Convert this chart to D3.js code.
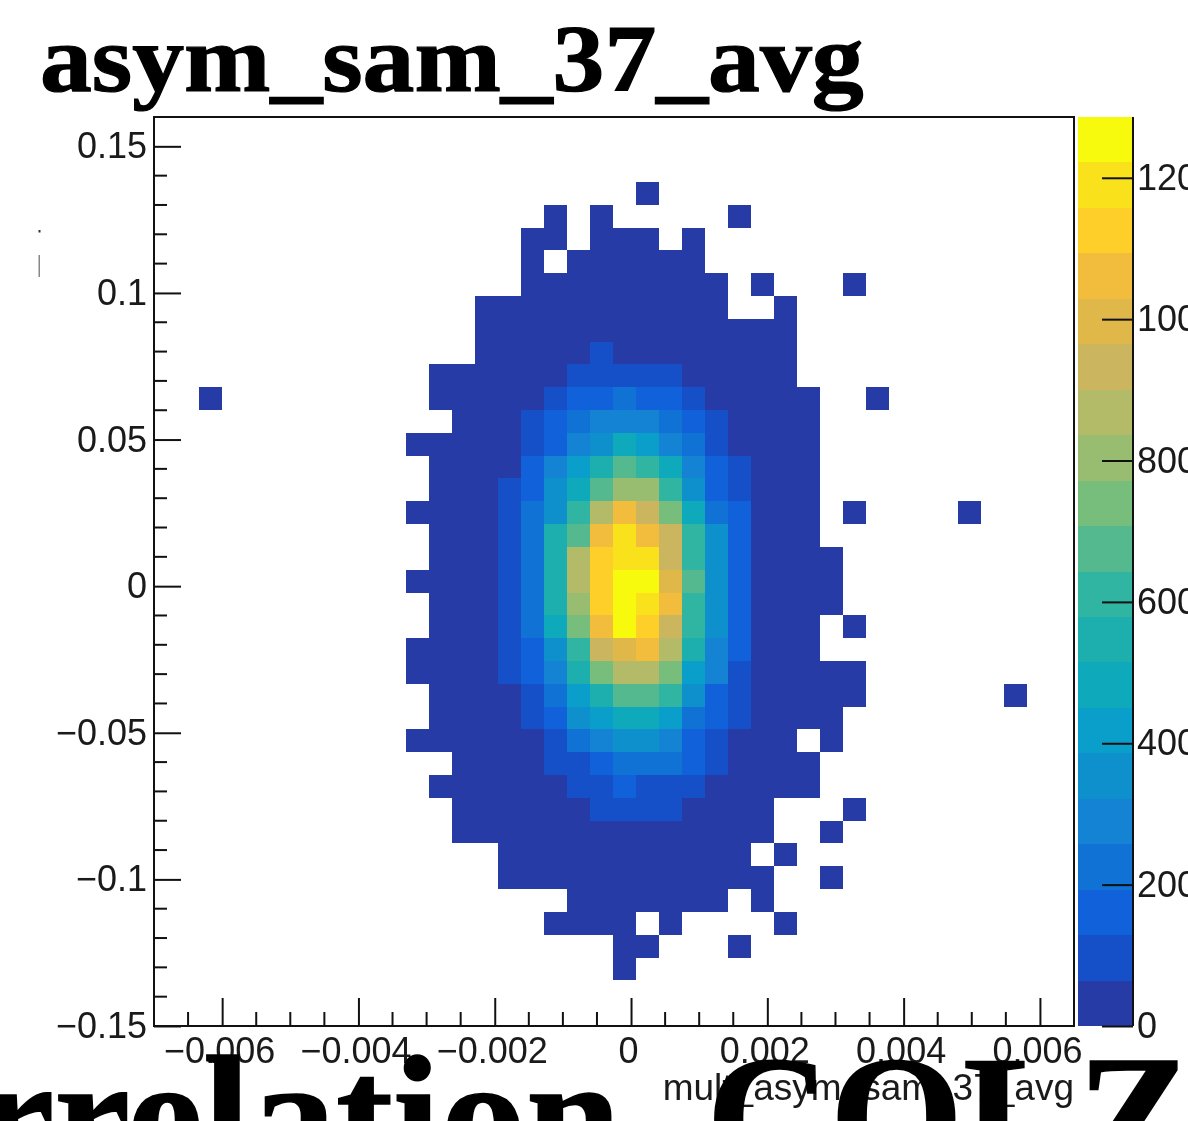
<!DOCTYPE html>
<html><head><meta charset="utf-8">
<script src="https://cdn.jsdelivr.net/npm/d3@7"></script>
<style>
html,body{margin:0;padding:0;background:#fff;overflow:hidden}
svg{display:block}
.ax text{font-family:"Liberation Sans",Arial,sans-serif;font-size:36px;fill:#1a1a1a}
.ax path,.ax line{stroke:#111;stroke-width:2px}
</style></head><body><svg id="c" width="1188" height="1121"></svg>
<script>
const titleText = "asym_sam_37_avg";
const footerText = "correlation_COLZ";
const xTitle = "mult_asym_sam_37_avg";
const xDomain = [-0.007, 0.0065];
const yDomain = [-0.15, 0.16];
const zMax = 1286;
const binX0 = -0.00702;
const binW = 0.0135 / 40;
const binH = 0.00778;
const xMajor = [-0.006,-0.004,-0.002,0,0.002,0.004,0.006];
const xMinor = [-0.0065,-0.0055,-0.005,-0.0045,-0.0035,-0.003,-0.0025,-0.0015,-0.001,-0.0005,0.0005,0.001,0.0015,0.0025,0.003,0.0035,0.0045,0.005,0.0055];
const yMajor = [-0.15,-0.1,-0.05,0,0.05,0.1,0.15];
const yMinor = [-0.14,-0.13,-0.12,-0.11,-0.09,-0.08,-0.07,-0.06,-0.04,-0.03,-0.02,-0.01,0.01,0.02,0.03,0.04,0.06,0.07,0.08,0.09,0.11,0.12,0.13,0.14];
const zTicks = [0,200,400,600,800,1000,1200];
const palette = ["#273ba7","#1650c8","#1162da","#1172d5","#1483d3","#0e90cc","#0a9ecb","#0ea9ba","#1dafae","#2fb5a1","#54b98f","#77bd7c","#98bd71","#b3bb68","#cbb55f","#e0b84a","#f2bc3c","#fdcf28","#f9e21c","#f8fa0d"];

// low-count bins: [row from top, first column, last column]
const lowRuns = [
[3,21,21],[4,17,17],[4,19,19],[4,25,25],
[5,16,17],[5,19,21],[5,23,23],
[6,16,16],[6,18,23],
[7,16,24],[7,26,26],[7,30,30],
[8,14,24],[8,27,27],
[9,14,27],[10,14,27],[11,12,27],
[12,2,2],[12,12,28],[12,31,31],
[13,13,28],[14,11,28],[15,12,28],[16,12,28],
[17,11,28],[17,30,30],[17,35,35],
[18,12,28],[19,12,29],[20,11,29],[21,12,29],
[22,12,28],[22,30,30],[23,11,28],[24,11,30],
[25,12,30],[25,37,37],[26,12,29],
[27,11,27],[27,29,29],[28,13,28],[29,12,28],
[30,13,26],[30,30,30],[31,13,26],[31,29,29],
[32,15,25],[32,27,27],[33,15,26],[33,29,29],
[34,18,24],[34,26,26],
[35,17,20],[35,22,22],[35,27,27],
[36,20,21],[36,25,25],[37,20,20]
];
const lowCount = 25;

// central bins: [row from top, first column, counts]
const coreRows = [
[10,19,[95]],
[11,18,[95,95,95,95,95]],
[12,17,[95,160,160,225,160,160,95]],
[13,16,[95,160,225,290,290,290,225,160,95]],
[14,16,[95,160,290,355,480,420,290,225,95]],
[15,16,[160,290,420,545,675,610,480,290,160,95]],
[16,15,[95,160,355,480,675,805,805,610,355,160,95]],
[17,15,[95,225,355,610,870,1060,930,740,480,225,160]],
[18,15,[95,225,545,675,1060,1190,1060,930,610,355,160]],
[19,15,[95,225,545,870,1125,1190,1190,930,610,355,160]],
[20,15,[95,225,545,870,1125,1255,1255,995,675,355,160]],
[21,15,[95,225,545,805,1125,1255,1190,1060,610,355,160]],
[22,15,[95,225,480,740,1060,1255,1125,930,610,355,160]],
[23,15,[95,160,355,610,930,995,1060,870,545,290,160]],
[24,15,[95,160,290,545,740,870,870,740,420,290,95]],
[25,16,[95,225,420,545,675,675,610,355,160,95]],
[26,16,[95,160,355,420,480,480,420,225,160,95]],
[27,17,[95,225,290,355,355,290,160,95]],
[28,17,[95,95,160,225,225,225,160,95]],
[29,18,[95,95,160,95,95,95]],
[30,19,[95,95,95,95]]
];

const W = 1188, H = 1121;
const L = 154, R = 1074, T = 117, B = 1026;
const svg = d3.select("#c").attr("viewBox",`0 0 ${W} ${H}`);
const root = svg.append("g").style("filter","blur(0.6px)");
const x = d3.scaleLinear().domain(xDomain).range([L,R]);
const y = d3.scaleLinear().domain(yDomain).range([B,T]);
const z = d3.scaleLinear().domain([0,zMax]).range([B,T]);
const colour = d3.scaleQuantize().domain([0,zMax]).range(palette);

const cells = new Map();
lowRuns.forEach(([r,a,b]) => d3.range(a,b+1).forEach(c => cells.set(r+"-"+c,{r,c,v:lowCount})));
coreRows.forEach(([r,a,vals]) => vals.forEach((v,i) => cells.set(r+"-"+(a+i),{r,c:a+i,v})));
const cellData = Array.from(cells.values());
const xEdge = c => binX0 + c*binW;
const yEdge = r => yDomain[0] + (40-r)*binH;

root.append("g").selectAll("rect").data(cellData).join("rect")
  .attr("x",d=>x(xEdge(d.c))).attr("y",d=>y(yEdge(d.r)))
  .attr("width",d=>x(xEdge(d.c+1))-x(xEdge(d.c)))
  .attr("height",d=>y(yEdge(d.r+1))-y(yEdge(d.r)))
  .attr("fill",d=>colour(d.v)).attr("shape-rendering","crispEdges");

// frame
root.append("rect").attr("x",L).attr("y",T).attr("width",R-L).attr("height",B-T)
  .attr("fill","none").attr("stroke","#111").attr("stroke-width",2);

const fmt = d => String(d).replace("-","\u2212");
const yg = root.append("g").attr("class","ax").attr("transform",`translate(${L},0)`)
  .call(d3.axisLeft(y).tickValues(yMajor).tickSize(-27).tickPadding(7).tickFormat(fmt));
yg.select(".domain").remove();
yg.selectAll(null).data(yMinor).join("line").attr("x1",0).attr("x2",13).attr("y1",d=>y(d)).attr("y2",d=>y(d));
const xg = root.append("g").attr("class","ax").attr("transform",`translate(0,${B})`)
  .call(d3.axisBottom(x).tickValues(xMajor).tickSize(-28).tickPadding(11).tickFormat(fmt));
xg.select(".domain").remove();
xg.selectAll(".tick text").attr("dx",-3);
xg.selectAll(null).data(xMinor).join("line").attr("y1",0).attr("y2",-14).attr("x1",d=>x(d)).attr("x2",d=>x(d));

// colour bar
const step = zMax/palette.length;
root.append("g").selectAll("rect").data(palette).join("rect")
  .attr("x",1078).attr("width",55)
  .attr("y",(d,i)=>z((i+1)*step)).attr("height",(d,i)=>z(i*step)-z((i+1)*step))
  .attr("fill",d=>d).attr("shape-rendering","crispEdges");
const zg = root.append("g").attr("class","ax").attr("transform","translate(1133,0)")
  .call(d3.axisRight(z).tickValues(zTicks).tickSize(-31).tickPadding(4).tickFormat(d3.format("d")));
zg.select(".domain").attr("d",`M0,${T}V${B}`);

// x title
root.append("text").attr("x",1074).attr("y",1100).attr("text-anchor","end")
  .attr("font-family","Liberation Sans, Arial, sans-serif").attr("font-size",37).attr("fill","#1a1a1a").text(xTitle);

// stray fragments at the left edge
root.append("rect").attr("x",38.5).attr("y",230).attr("width",2).attr("height",2.5).attr("fill","#333");
root.append("rect").attr("x",38.5).attr("y",255).attr("width",1.5).attr("height",22).attr("fill","#888");

// titles
root.append("text").attr("transform","translate(40,91) scale(1.08,1)")
  .attr("font-family","Liberation Serif, Times New Roman, serif").attr("font-weight","bold")
  .attr("font-size",96).attr("fill","#000").attr("stroke","#000").attr("stroke-width",1.2).text(titleText);
root.append("text").attr("x",-183).attr("y",1174)
  .attr("font-family","Liberation Serif, Times New Roman, serif").attr("font-weight","bold")
  .attr("font-size",171).attr("fill","#000").attr("stroke","#000").attr("stroke-width",1.5).text(footerText);
</script></body></html>
